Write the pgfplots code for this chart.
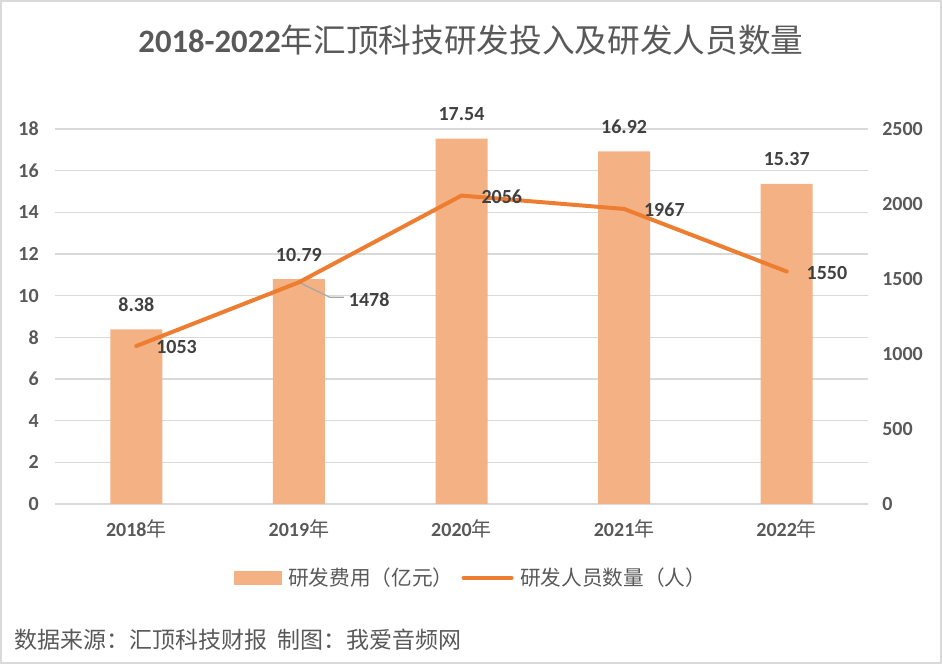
\documentclass[border=0pt]{standalone}
\usepackage{pgfplots}
\pgfplotsset{compat=1.18}
\usepackage{fontspec}
\setmainfont{Carlito}
\newfontfamily\cjk{Noto Sans CJK SC}
\newcommand\cj[1]{{\mdseries\cjk #1}}
\definecolor{barcol}{HTML}{F4B183}
\definecolor{linecol}{HTML}{ED7D31}
\definecolor{gridcol}{HTML}{D9D9D9}
\definecolor{txtcol}{HTML}{595959}
\definecolor{lblcol}{HTML}{404040}
\definecolor{leadcol}{HTML}{A6A6A6}

\pgfplotstableread{
x y
0 8.38
1 10.79
2 17.54
3 16.92
4 15.37
}\costs

\pgfplotstableread{
x y dx dy
0 1053 13.5 -0.5
1 1478 36.0 -13.3
2 2056 13.5 -0.75
3 1967 13.5 -0.3
4 1550 13.5 -1.0
}\staff

\begin{document}
\begin{tikzpicture}
\useasboundingbox (0,0) rectangle (706.5pt,498pt);
\draw[gridcol, line width=1.5pt] (0.75pt,0.75pt) rectangle (705.75pt,497.25pt);
\node[txtcol, font=\fontsize{24.5}{28}\selectfont, inner sep=0] at (353.25pt,468pt) {\textbf{2018-2022}\cj{年汇顶科技研发投入及研发人员数量}};

\begin{axis}[
  at={(41.25pt,120pt)}, anchor=south west,
  width=609.75pt, height=281.25pt, scale only axis,
  xmin=-0.5, xmax=4.5, ymin=0, ymax=18,
  ytick={0,2,...,18},
  xtick={0,1,2,3,4},
  xticklabels={{2018\cj{年}},{2019\cj{年}},{2020\cj{年}},{2021\cj{年}},{2022\cj{年}}},
  axis line style={draw=none},
  tick style={draw=none},
  major tick length=0pt,
  ymajorgrids, grid style={gridcol, line width=1pt},
  /pgf/number format/assume math mode=true,
  /pgf/number format/1000 sep={},
  yticklabel style={anchor=east, inner sep=0pt, xshift=-12pt, font=\fontsize{15}{18}\selectfont\bfseries, text=txtcol},
  xticklabel style={anchor=base, inner sep=0pt, yshift=-24.75pt, font=\fontsize{15}{18}\selectfont\bfseries, text=txtcol},
  clip=false,
]
\addplot[ybar, bar width=39pt, fill=barcol, draw=none,
  nodes near coords={\pgfmathprintnumber[fixed,fixed zerofill,precision=2]{\pgfplotspointmeta}},
  every node near coord/.append style={anchor=base, inner sep=0pt, yshift=13.5pt, font=\fontsize{15}{18}\selectfont\bfseries, text=lblcol}
] table[x=x, y=y] {\costs};
\end{axis}

\begin{axis}[
  at={(41.25pt,120pt)}, anchor=south west,
  width=609.75pt, height=281.25pt, scale only axis,
  xmin=-0.5, xmax=4.5, ymin=0, ymax=2500,
  ytick={0,500,...,2500},
  axis y line*=right,
  hide x axis,
  axis line style={draw=none},
  tick style={draw=none},
  major tick length=0pt,
  /pgf/number format/assume math mode=true,
  /pgf/number format/1000 sep={},
  yticklabel style={anchor=west, inner sep=0pt, xshift=10.5pt, font=\fontsize{15}{18}\selectfont\bfseries, text=txtcol},
  clip=false,
  legend columns=-1,
  legend style={at={(axis description cs:0.2202,-0.197)}, anchor=west, draw=none, fill=none, inner sep=0pt, outer sep=0pt,
    font=\fontsize{15.5}{18}\selectfont\cjk, text=txtcol,
    nodes={inner sep=0pt},
    /tikz/every odd column/.append style={column sep=5pt},
    /tikz/every even column/.append style={column sep=6pt}},
]
\addlegendimage{legend image code/.code={\fill[barcol] (0pt,-4.875pt) rectangle (35.25pt,4.875pt);}}
\addlegendentry{研发费用（亿元）}
\draw[leadcol, line width=0.9pt] (axis cs:1,1478) -- ++(23.25pt,-11.25pt) -- ++(10.5pt,0pt);
\addplot[linecol, line width=3pt, line join=round, line cap=round, mark=none,
  legend image code/.code={\draw[linecol, line width=3pt, line cap=round] (1.5pt,0pt) -- (37.5pt,0pt);},
  point meta=explicit,
  visualization depends on={\thisrow{dx} \as \dx},
  visualization depends on={\thisrow{dy} \as \dy},
  nodes near coords={\pgfmathprintnumber[fixed,precision=0]{\pgfplotspointmeta}},
  every node near coord/.append style={anchor=west, inner sep=0pt, xshift=\dx pt, yshift=\dy pt, font=\fontsize{15}{18}\selectfont\bfseries, text=lblcol}
] table[x=x, y=y, meta=y] {\staff};
\addlegendentry{研发人员数量（人）}
\end{axis}

\node[txtcol, font=\fontsize{17.25}{20}\selectfont\cjk, anchor=west, inner sep=0] at (10.5pt,18pt) {数据来源：汇顶科技财报\hspace{0.45em}制图：我爱音频网};
\end{tikzpicture}
\end{document}
